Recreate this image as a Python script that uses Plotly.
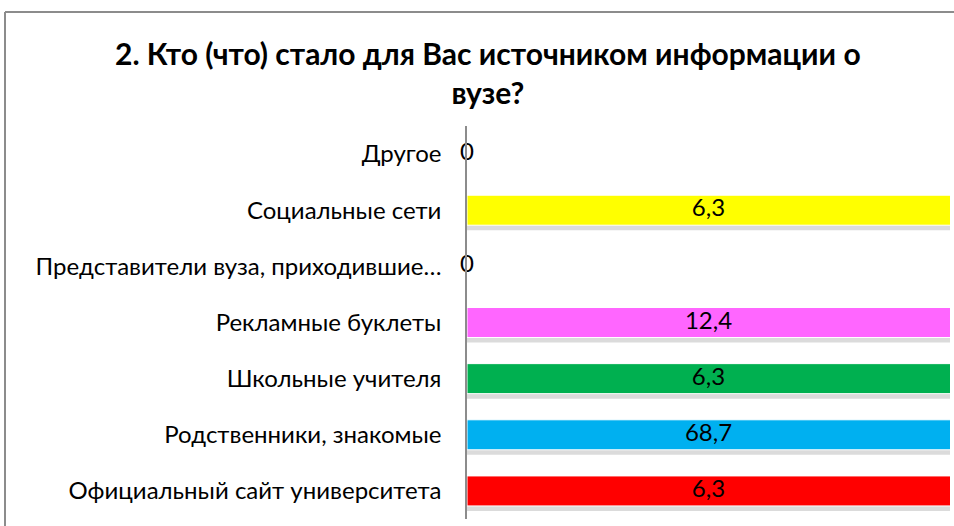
import plotly.graph_objects as go

title_text = "2. Кто (что) стало для Вас источником информации о<br>вузе?"
categories = [
    "Официальный сайт университета",
    "Родственники, знакомые",
    "Школьные учителя",
    "Рекламные буклеты",
    "Представители вуза, приходившие…",
    "Социальные сети",
    "Другое",
]
values = [6.3, 68.7, 6.3, 12.4, 0, 6.3, 0]
colors = ["#FF0000", "#00B0F0", "#00B050", "#FF66FF", "#808080", "#FFFF00", "#808080"]
x_max = 6.0

W, H = 954, 526
L, R, T, B = 467, 4, 126, 7
plot_w = W - L - R
plot_h = H - T - B
band = plot_h / len(categories)
bar_w = 30 / band
shadow_shift = 5 / band

font_family = "Lato, 'Open Sans', sans-serif"


def px_x(px):
    return (px - L) / plot_w


def px_y(py):
    return 1 - (py - T) / plot_h


fig = go.Figure()

# shadow
fig.add_trace(go.Bar(
    y=categories, x=values, orientation="h",
    width=bar_w, offset=-bar_w / 2 - shadow_shift,
    marker=dict(color="rgba(110,110,110,0.25)", line=dict(width=0)),
    hoverinfo="skip", showlegend=False,
))
# bars
fig.add_trace(go.Bar(
    y=categories, x=values, orientation="h",
    width=bar_w, offset=-bar_w / 2,
    marker=dict(color=colors, line=dict(color="white", width=1)),
    showlegend=False,
))

labels = [f"{v:g}".replace(".", ",") for v in values]
label_x = [0 if v == 0 else min(v, x_max) / 2 for v in values]
fig.add_trace(go.Scatter(
    y=categories, x=label_x, mode="text", text=labels,
    textposition="middle center",
    textfont=dict(family=font_family, size=24, color="black"),
    cliponaxis=False, showlegend=False, hoverinfo="skip",
))

fig.update_layout(
    width=W, height=H,
    margin=dict(l=L, r=R, t=T, b=B, autoexpand=False),
    paper_bgcolor="white", plot_bgcolor="white",
    barmode="overlay",
    xaxis=dict(range=[0, x_max], showticklabels=False, showgrid=False,
               zeroline=False, showline=False, fixedrange=True),
    yaxis=dict(categoryorder="array", categoryarray=categories,
               range=[-0.5, len(categories) - 0.5],
               showgrid=False, zeroline=False,
               showline=True, linecolor="#8c8c8c", linewidth=1.5,
               ticks="", ticklabelstandoff=19,
               tickfont=dict(family=font_family, size=24, color="black")),
    annotations=[dict(
        text=title_text, xref="paper", yref="paper",
        x=px_x(488), y=px_y(73), xanchor="center", yanchor="middle",
        showarrow=False, align="center",
        font=dict(family=font_family, size=30, color="black", weight="bold"),
    )],
    shapes=[
        dict(type="line", xref="paper", yref="paper",
             x0=px_x(5), x1=px_x(5), y0=px_y(12), y1=px_y(540),
             line=dict(color="#8c8c8c", width=2)),
        dict(type="line", xref="paper", yref="paper",
             x0=px_x(5), x1=px_x(1000), y0=px_y(12), y1=px_y(12),
             line=dict(color="#8c8c8c", width=2)),
    ],
)

fig.write_html("out.html", config={"displayModeBar": False},
               post_script="document.body.style.margin='0';")
